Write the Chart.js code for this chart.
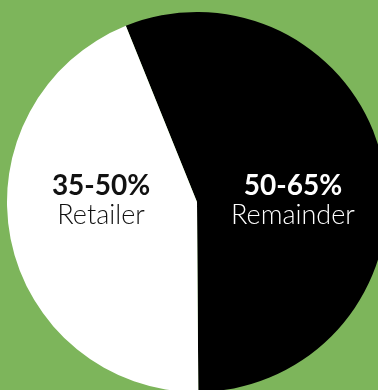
<!DOCTYPE html>
<html>
<head>
<meta charset="utf-8">
<script src="https://cdn.jsdelivr.net/npm/chart.js@4"></script>
<style>
  html, body { margin: 0; padding: 0; width: 378px; height: 390px; overflow: hidden; background: #7db55b; }
  #wrap { position: absolute; left: 7px; top: 12px; width: 380px; height: 380px; }
</style>
</head>
<body>
<div id="wrap"><canvas id="pie"></canvas></div>
<script>
// slice data (share of price)
const categories = ["Remainder", "Retailer"];
const shares = [56, 44];
const rangeLabels = ["50-65%", "35-50%"];
const sliceColors = ["#000000", "#ffffff"];
const textColors = ["#ffffff", "#111111"];

// labels drawn at half radius, left or right of centre
const sliceLabels = {
    id: "sliceLabels",
    afterDatasetsDraw(chart) {
        const ctx = chart.ctx;
        const arcs = chart.getDatasetMeta(0).data;
        ctx.save();
        ctx.textAlign = "center";
        ctx.textBaseline = "alphabetic";
        arcs.forEach((arc, i) => {
            const mid = (arc.startAngle + arc.endAngle) / 2;
            const side = Math.cos(mid) >= 0 ? 1 : -1;
            const x = arc.x + side * arc.outerRadius * 0.505;
            const y = arc.y;
            ctx.fillStyle = textColors[i];
            ctx.font = "bold 28px Lato";
            ctx.fillText(rangeLabels[i], x, y - 7);
            ctx.font = "300 27px Lato";
            ctx.fillText(categories[i], x, y + 22);
        });
        ctx.restore();
    }
};

new Chart(document.getElementById("pie"), {
    type: "pie",
    data: {
        labels: categories,
        datasets: [{
            data: shares,
            backgroundColor: sliceColors,
            borderWidth: 0,
            hoverOffset: 0,
            offset: 0
        }]
    },
    options: {
        responsive: true,
        maintainAspectRatio: false,
        animation: false,
        rotation: -22,
        layout: { padding: 0 },
        plugins: {
            legend: { display: false },
            tooltip: { enabled: false }
        },
        events: []
    },
    plugins: [sliceLabels]
});
</script>
</body>
</html>
